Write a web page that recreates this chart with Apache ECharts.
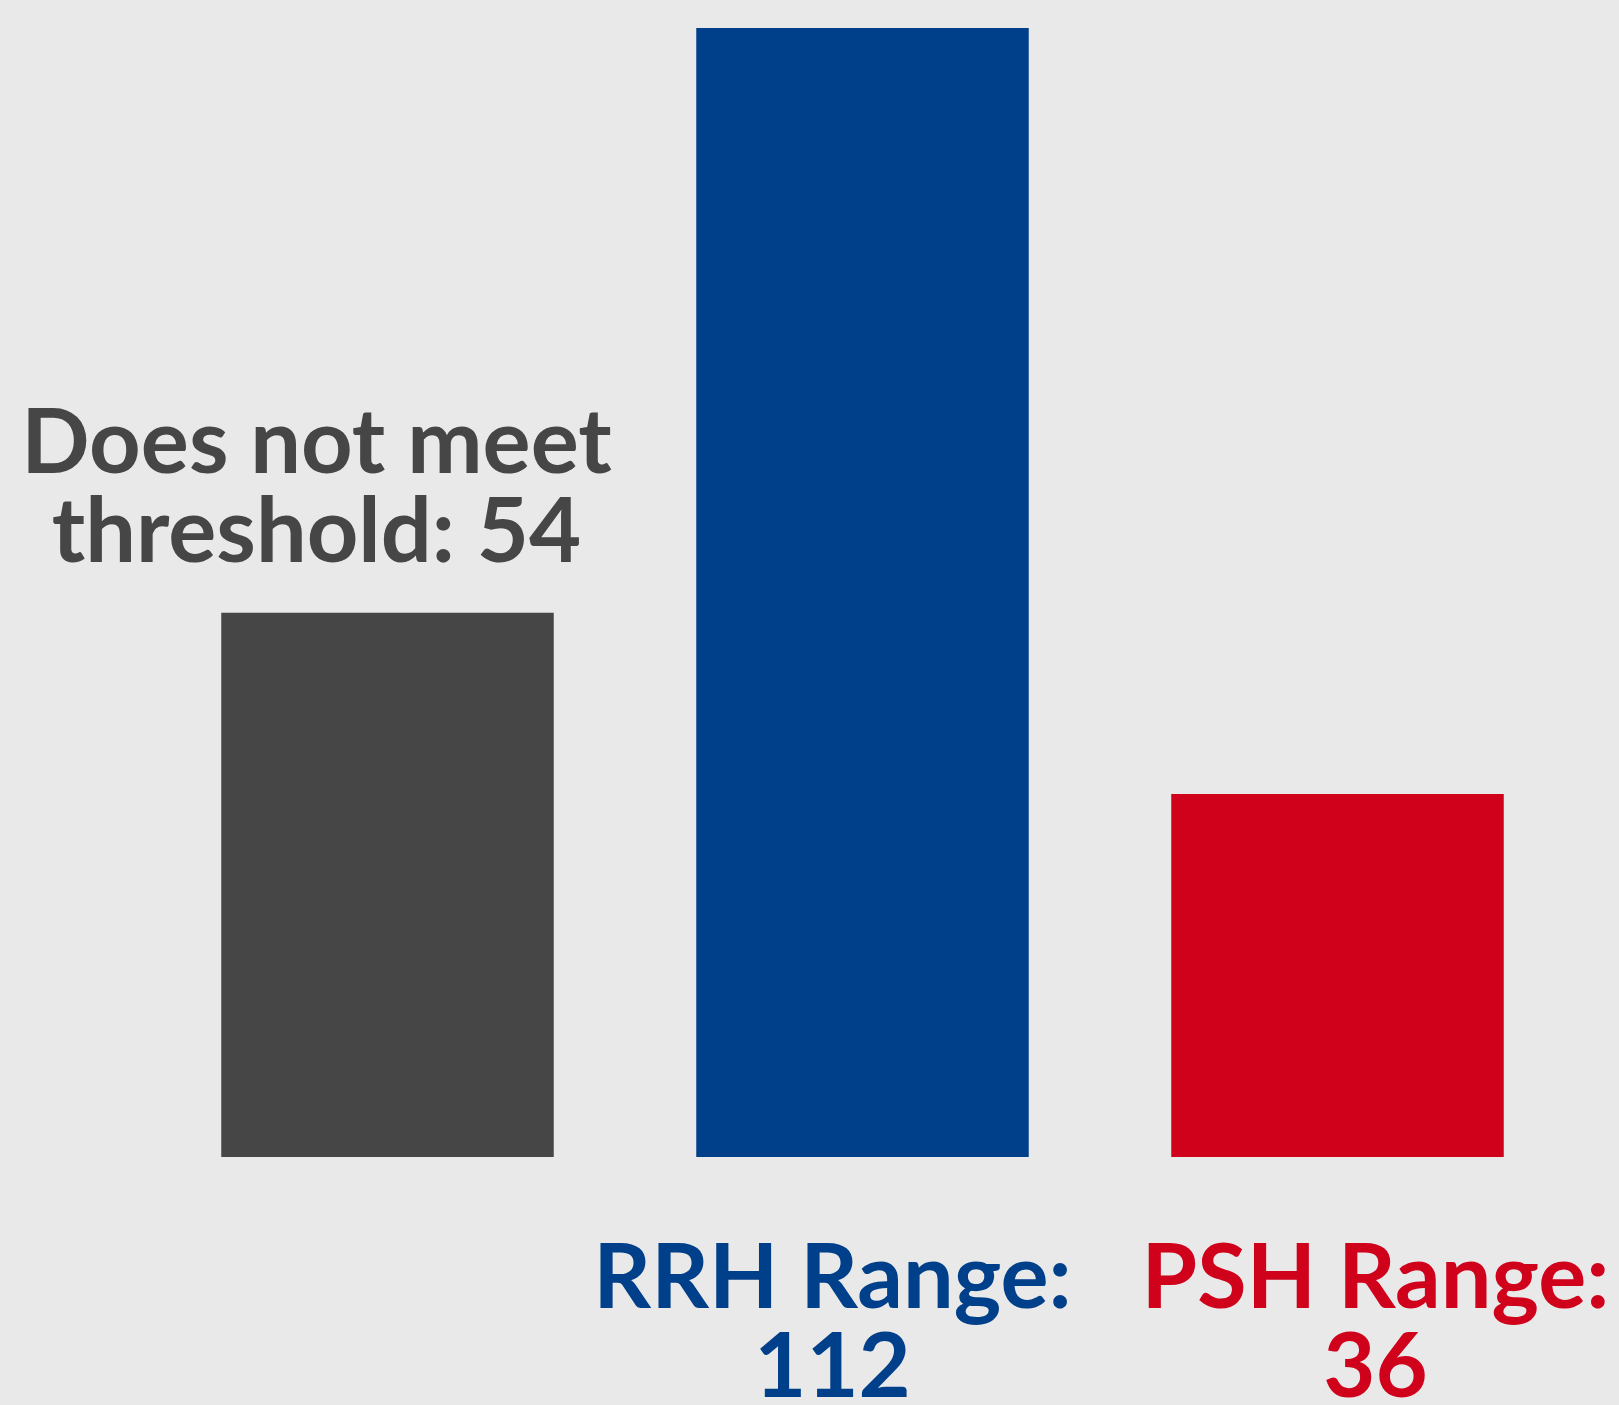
<!DOCTYPE html>
<html>
<head>
<meta charset="utf-8">
<script src="https://cdn.jsdelivr.net/npm/echarts@6/dist/echarts.min.js"></script>
<style>
html,body{margin:0;padding:0;background:#e9e9e9;}
#c{width:1619px;height:1405px;}
</style>
</head>
<body>
<div id="c"></div>
<script>
const categories = ['Does not meet\nthreshold', 'RRH Range', 'PSH Range'];
const values = [54, 112, 36];
const colors = ['#464646', '#003f8a', '#d0011b'];

const chart = echarts.init(document.getElementById('c'));
const labelBase = {
  show: true,
  fontFamily: 'Lato',
  fontWeight: 'bold',
  fontSize: 90,
  lineHeight: 89
};
chart.setOption({
  backgroundColor: '#e9e9e9',
  animation: false,
  grid: { left: 150, right: 44, top: 28, bottom: 248 },
  xAxis: { type: 'category', data: categories, show: false },
  yAxis: { type: 'value', min: 0, max: 112, show: false },
  series: [{
    type: 'bar',
    barCategoryGap: '30%',
    data: values.map((v, i) => ({
      value: v,
      itemStyle: { color: colors[i] },
      label: Object.assign({}, labelBase, {
        color: colors[i],
        position: i === 0 ? 'top' : 'bottom',
        distance: i === 0 ? 35 : 77,
        offset: [[-71, -30, 38][i], 0],
        formatter: i === 0 ? '{b}: {c}' : '{b}:\n{c}'
      })
    }))
  }]
});
</script>
</body>
</html>
